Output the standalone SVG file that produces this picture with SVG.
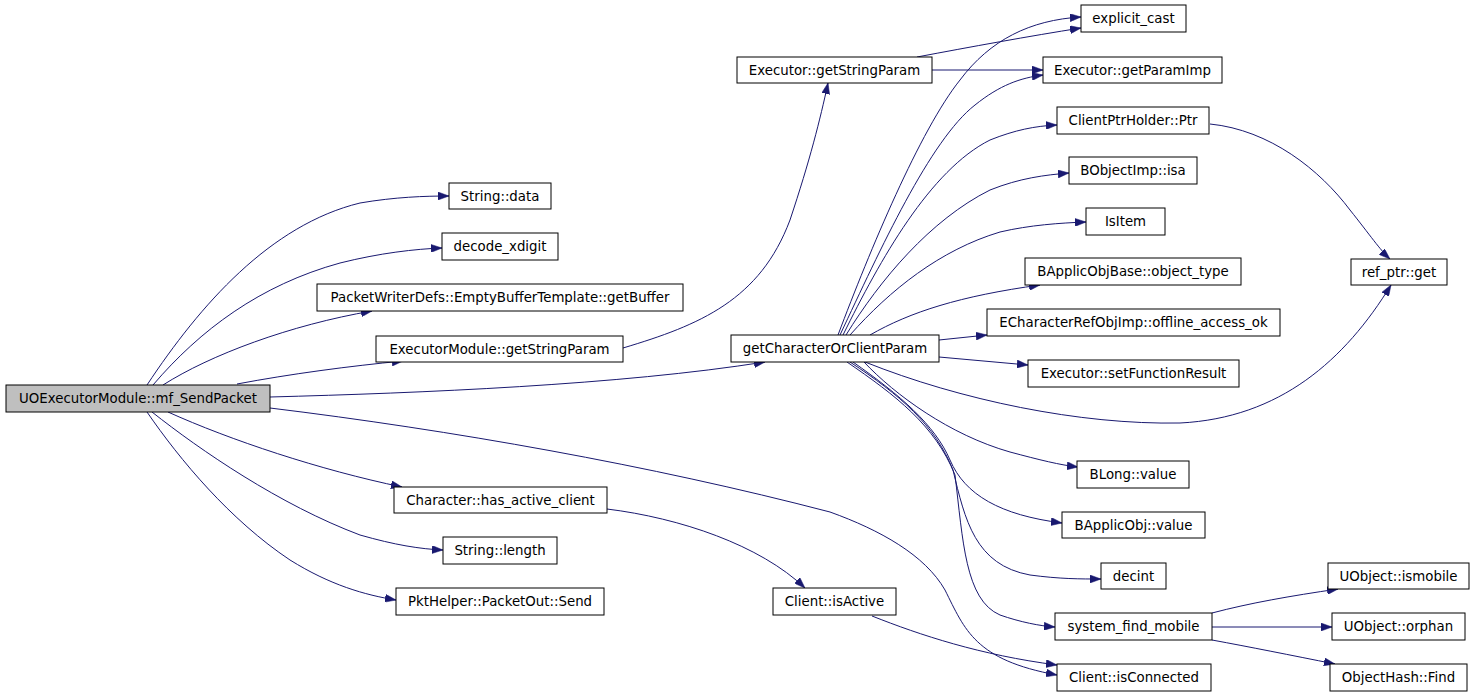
<svg xmlns="http://www.w3.org/2000/svg" width="1475" height="696" viewBox="0 0 1475 696">
<style>
.n rect{fill:#ffffff;stroke:#000000;stroke-width:1}
.n.root rect{fill:#bfbfbf}
.n text{font-family:"DejaVu Sans",sans-serif;font-size:13.33px;fill:#000000;text-anchor:middle}
.e path{fill:none;stroke:#191970;stroke-width:1;marker-end:url(#ah)}
</style>
<defs>
<marker id="ah" markerWidth="11" markerHeight="8" refX="11" refY="4" orient="auto" markerUnits="userSpaceOnUse">
<path d="M0,0 L11,4 L0,8 z" fill="#191970" stroke="#191970" stroke-width="0.5"/>
</marker>
</defs>
<rect width="1475" height="696" fill="#ffffff"/>
<g id="connectors" class="e">
<path d="M147,385 C200,305 270,225 360,203 C395,197 425,196 449,196"/>
<path d="M153,385 C200,330 260,285 340,263 C380,253 415,249 442,248"/>
<path d="M163,385 C210,355 290,325 372,311"/>
<path d="M237,384 C290,374 350,366 403,361"/>
<path d="M270,397 C420,393 620,385 765,362"/>
<path d="M270,408 C450,430 650,465 830,512 C880,530 925,555 945,590 C965,630 975,660 1057,675"/>
<path d="M168,412 C230,440 320,470 402,487"/>
<path d="M152,412 C200,450 280,505 360,535 C395,545 420,549 443,550"/>
<path d="M147,412 C180,460 230,520 290,560 C330,585 365,595 396,600"/>
<path d="M623,348 C700,325 760,300 790,220 C810,160 820,120 828,83"/>
<path d="M917,57 C970,47 1030,36 1081,28"/>
<path d="M932,70 L1043,70"/>
<path d="M838,335 C870,250 920,130 960,80 C990,40 1030,20 1081,17"/>
<path d="M840,335 C880,250 930,140 975,105 C1000,85 1020,78 1043,75"/>
<path d="M843,335 C880,260 930,170 990,140 C1015,130 1035,126 1057,125"/>
<path d="M846,335 C880,280 930,220 990,190 C1020,178 1045,175 1069,173"/>
<path d="M850,335 C890,290 940,250 1000,232 C1030,225 1060,223 1086,222"/>
<path d="M870,335 C910,312 960,296 1040,285"/>
<path d="M939,340 L987,335"/>
<path d="M939,357 L1028,365"/>
<path d="M865,362 C960,400 1080,425 1180,423 C1280,418 1345,360 1391,285"/>
<path d="M864,362 C895,395 950,435 1010,452 C1040,460 1060,465 1078,467"/>
<path d="M853,362 C900,395 935,425 950,460 C965,495 1000,515 1062,523"/>
<path d="M850,362 C900,395 935,425 953,470 C965,520 975,565 1030,575 C1060,579 1080,579 1101,579"/>
<path d="M847,362 C895,395 935,425 955,475 C963,540 965,600 1000,615 C1020,622 1040,626 1055,627"/>
<path d="M1210,124 C1270,130 1320,170 1350,210 C1370,235 1380,250 1390,259"/>
<path d="M607,509 C680,518 760,545 805,588"/>
<path d="M872,616 C920,635 980,655 1057,665"/>
<path d="M1212,613 C1250,603 1290,596 1338,589"/>
<path d="M1212,627 L1332,627"/>
<path d="M1212,640 C1250,647 1290,655 1335,664"/>
</g>
<g id="mf_SendPacket" class="n root"><rect x="6" y="385" width="264" height="27"/><text x="138" y="403">UOExecutorModule::mf_SendPacket</text></g>
<g id="String_data" class="n"><rect x="449" y="183" width="102" height="26"/><text x="500" y="201">String::data</text></g>
<g id="decode_xdigit" class="n"><rect x="442" y="233" width="116" height="27"/><text x="500" y="251">decode_xdigit</text></g>
<g id="getBuffer" class="n"><rect x="317" y="284" width="366" height="27"/><text x="500" y="302">PacketWriterDefs::EmptyBufferTemplate::getBuffer</text></g>
<g id="ExecutorModule_getStringParam" class="n"><rect x="376" y="336" width="247" height="26"/><text x="499.5" y="354">ExecutorModule::getStringParam</text></g>
<g id="has_active_client" class="n"><rect x="394" y="487" width="213" height="26"/><text x="500.5" y="505">Character::has_active_client</text></g>
<g id="String_length" class="n"><rect x="443" y="537" width="114" height="27"/><text x="500" y="555">String::length</text></g>
<g id="PacketOut_Send" class="n"><rect x="396" y="588" width="208" height="27"/><text x="500" y="606">PktHelper::PacketOut::Send</text></g>
<g id="Executor_getStringParam" class="n"><rect x="737" y="57" width="195" height="26"/><text x="834.5" y="75">Executor::getStringParam</text></g>
<g id="getCharacterOrClientParam" class="n"><rect x="731" y="335" width="208" height="27"/><text x="835" y="353">getCharacterOrClientParam</text></g>
<g id="Client_isActive" class="n"><rect x="773" y="588" width="123" height="27"/><text x="834.5" y="606">Client::isActive</text></g>
<g id="explicit_cast" class="n"><rect x="1081" y="5" width="105" height="27"/><text x="1133.5" y="23">explicit_cast</text></g>
<g id="getParamImp" class="n"><rect x="1043" y="57" width="179" height="26"/><text x="1132.5" y="75">Executor::getParamImp</text></g>
<g id="ClientPtrHolder_Ptr" class="n"><rect x="1057" y="107" width="152" height="27"/><text x="1133" y="125">ClientPtrHolder::Ptr</text></g>
<g id="BObjectImp_isa" class="n"><rect x="1069" y="157" width="128" height="27"/><text x="1133" y="175">BObjectImp::isa</text></g>
<g id="IsItem" class="n"><rect x="1086" y="208" width="79" height="27"/><text x="1125.5" y="226">IsItem</text></g>
<g id="object_type" class="n"><rect x="1025" y="258" width="216" height="27"/><text x="1133" y="276">BApplicObjBase::object_type</text></g>
<g id="offline_access_ok" class="n"><rect x="987" y="309" width="293" height="27"/><text x="1133.5" y="327">ECharacterRefObjImp::offline_access_ok</text></g>
<g id="setFunctionResult" class="n"><rect x="1028" y="360" width="211" height="27"/><text x="1133.5" y="378">Executor::setFunctionResult</text></g>
<g id="BLong_value" class="n"><rect x="1077" y="461" width="112" height="27"/><text x="1133" y="479">BLong::value</text></g>
<g id="BApplicObj_value" class="n"><rect x="1062" y="512" width="143" height="26"/><text x="1133.5" y="530">BApplicObj::value</text></g>
<g id="decint" class="n"><rect x="1101" y="563" width="65" height="26"/><text x="1133.5" y="581">decint</text></g>
<g id="system_find_mobile" class="n"><rect x="1055" y="613" width="157" height="27"/><text x="1133.5" y="631">system_find_mobile</text></g>
<g id="Client_isConnected" class="n"><rect x="1057" y="664" width="154" height="27"/><text x="1134" y="682">Client::isConnected</text></g>
<g id="ref_ptr_get" class="n"><rect x="1351" y="259" width="96" height="26"/><text x="1399" y="277">ref_ptr::get</text></g>
<g id="UObject_ismobile" class="n"><rect x="1328" y="563" width="141" height="26"/><text x="1398.5" y="581">UObject::ismobile</text></g>
<g id="UObject_orphan" class="n"><rect x="1332" y="613" width="133" height="27"/><text x="1398.5" y="631">UObject::orphan</text></g>
<g id="ObjectHash_Find" class="n"><rect x="1330" y="664" width="137" height="27"/><text x="1398.5" y="682">ObjectHash::Find</text></g>
</svg>
